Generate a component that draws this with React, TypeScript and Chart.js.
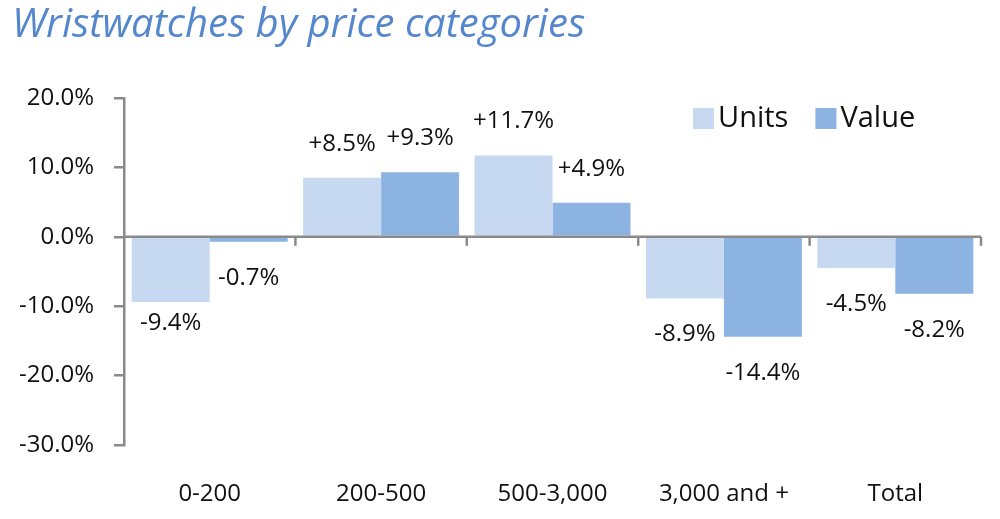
import React, { useEffect, useRef } from "react";
import { Chart, registerables } from "chart.js";

Chart.register(...registerables);

const titleText = "Wristwatches by price categories";
const categories = ["0-200", "200-500", "500-3,000", "3,000 and +", "Total"];
const seriesNames = ["Units", "Value"];
const unitsValues = [-9.4, 8.5, 11.7, -8.9, -4.5];
const valueValues = [-0.7, 9.3, 4.9, -14.4, -8.2];
const yMin = -30;
const yMax = 20;
const yStep = 10;

const UNITS_COLOR = "#c6d9f1";
const VALUE_COLOR = "#8db3e2";
const AXIS_COLOR = "#8a8a8a";
const TEXT_COLOR = "#111111";
const FONT = "'Open Sans', 'DejaVu Sans', sans-serif";

const fmtLabel = (v: number) => (v > 0 ? "+" : "") + v.toFixed(1) + "%";

const zeroAxisPlugin = {
  id: "zeroAxis",
  afterDatasetsDraw(chart: any) {
    const { ctx, scales, chartArea } = chart;
    const y0 = scales.y.getPixelForValue(0);
    ctx.save();
    ctx.strokeStyle = AXIS_COLOR;
    ctx.lineWidth = 2.5;
    ctx.beginPath();
    ctx.moveTo(chartArea.left, y0);
    ctx.lineTo(chartArea.right, y0);
    ctx.stroke();
    for (let i = 1; i <= categories.length; i++) {
      const x = scales.x.getPixelForValue(i - 0.5);
      ctx.beginPath();
      ctx.moveTo(x, y0);
      ctx.lineTo(x, y0 + 9);
      ctx.stroke();
    }
    ctx.restore();
  },
};

const dataLabelPlugin = {
  id: "barValueLabels",
  afterDatasetsDraw(chart: any) {
    const { ctx } = chart;
    ctx.save();
    ctx.font = `24px ${FONT}`;
    ctx.fillStyle = TEXT_COLOR;
    ctx.textAlign = "center";
    ctx.textBaseline = "middle";
    chart.data.datasets.forEach((ds: any, di: number) => {
      const meta = chart.getDatasetMeta(di);
      meta.data.forEach((el: any, i: number) => {
        const v = ds.data[i] as number;
        let off = v >= 0 ? -34 : 36;
        if (di === 0 && i === 0) off = 21;
        ctx.fillText(fmtLabel(v), el.x, el.y + off);
      });
    });
    ctx.restore();
  },
};

const legendPlugin = {
  id: "customLegend",
  afterDraw(chart: any) {
    const { ctx } = chart;
    ctx.save();
    ctx.font = `29px ${FONT}`;
    ctx.textBaseline = "middle";
    ctx.textAlign = "left";
    let x = 693;
    const yTop = 108;
    const box = 21;
    chart.data.datasets.forEach((ds: any) => {
      ctx.fillStyle = ds.backgroundColor;
      ctx.fillRect(x, yTop, box, box);
      ctx.fillStyle = TEXT_COLOR;
      ctx.fillText(ds.label, x + box + 4, yTop + box / 2);
      const w = ctx.measureText(ds.label).width;
      x += box + 4 + w + 27;
    });
    ctx.restore();
  },
};

export default function App() {
  const ref = useRef<HTMLCanvasElement | null>(null);
  useEffect(() => {
    if (!ref.current) return;
    const chart = new Chart(ref.current, {
      type: "bar",
      data: {
        labels: categories,
        datasets: [
          {
            label: seriesNames[0],
            data: unitsValues,
            backgroundColor: UNITS_COLOR,
            borderWidth: 0,
            categoryPercentage: 0.91,
            barPercentage: 1.0,
          },
          {
            label: seriesNames[1],
            data: valueValues,
            backgroundColor: VALUE_COLOR,
            borderWidth: 0,
            categoryPercentage: 0.91,
            barPercentage: 1.0,
          },
        ],
      },
      options: {
        responsive: false,
        animation: false,
        layout: { padding: { top: 2, left: 12, right: 19, bottom: 0 } },
        plugins: {
          legend: { display: false },
          tooltip: { enabled: false },
          title: {
            display: true,
            text: titleText,
            align: "start",
            color: "#5587cd",
            font: { family: FONT, size: 40, style: "italic", weight: "normal", lineHeight: 1.2 },
            padding: { top: 0, bottom: 48 },
          },
        },
        scales: {
          x: {
            grid: { display: false, drawTicks: false },
            border: { display: false },
            ticks: {
              color: TEXT_COLOR,
              font: { family: FONT, size: 24 },
              padding: 35,
              maxRotation: 0,
            },
            afterFit: (s: any) => {
              s.height = 74;
            },
          },
          y: {
            min: yMin,
            max: yMax,
            ticks: {
              stepSize: yStep,
              color: TEXT_COLOR,
              font: { family: FONT, size: 24 },
              padding: 20,
              callback: (v: any) => Number(v).toFixed(1) + "%",
            },
            grid: {
              drawOnChartArea: false,
              drawTicks: true,
              tickLength: 10,
              color: "transparent",
              tickColor: AXIS_COLOR,
              lineWidth: 2.5,
            },
            border: { display: true, color: AXIS_COLOR, width: 2.5 },
            afterFit: (s: any) => {
              s.width = 112;
            },
          },
        },
      },
      plugins: [zeroAxisPlugin, dataLabelPlugin, legendPlugin],
    });
    return () => chart.destroy();
  }, []);
  return (
    <div style={{ position: "absolute", left: 0, top: 0, width: 1000, height: 519, background: "#fff" }}>
      <canvas ref={ref} width={1000} height={519} style={{ width: 1000, height: 519, display: "block" }} />
    </div>
  );
}
